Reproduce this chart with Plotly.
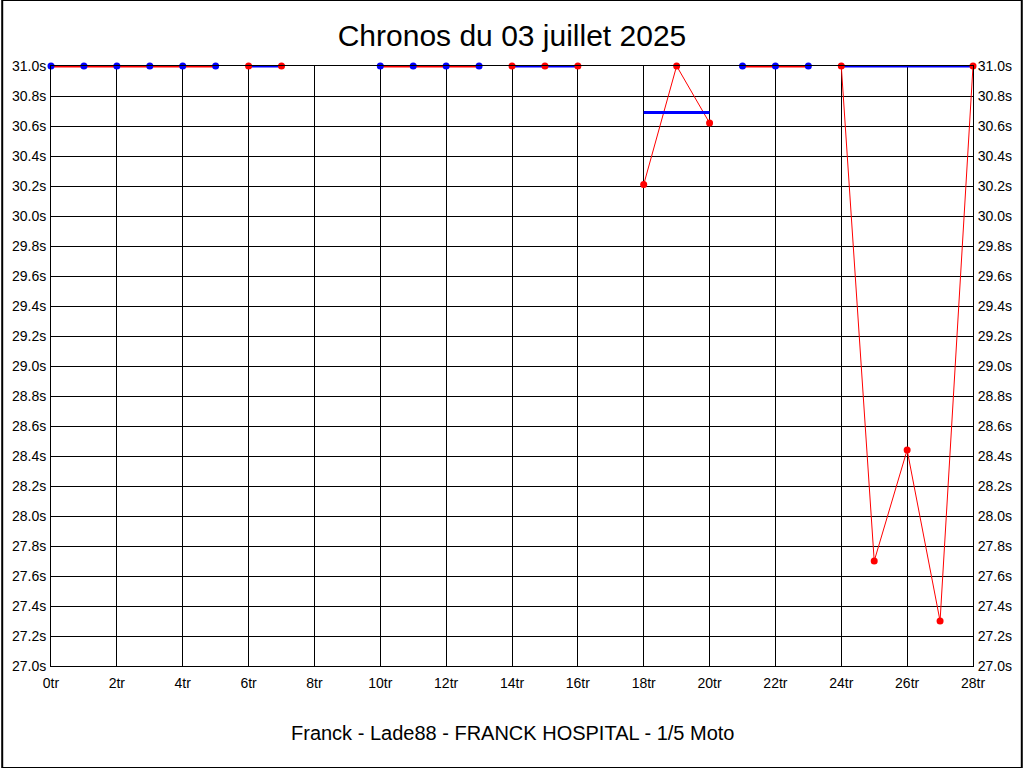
import plotly.graph_objects as go

# Lap number, lap time (values above 31.0s are shown clamped at the top)
LAPS = [0, 1, 2, 3, 4, 5, 6, 7, 10, 11, 12, 13, 14, 15, 16,
        18, 19, 20, 21, 22, 23, 24, 25, 26, 27, 28]
TIMES = [31.0, 31.0, 31.0, 31.0, 31.0, 31.0, 31.0, 31.0, 31.0, 31.0, 31.0, 31.0, 31.0, 31.0, 31.0,
         30.21, 31.0, 30.62, 31.0, 31.0, 31.0, 31.0, 27.70, 28.44, 27.30, 31.0]
# run (session) index of each lap
RUN = [0, 0, 0, 0, 0, 0, 1, 1, 2, 2, 2, 2, 3, 3, 3,
       4, 4, 4, 5, 5, 5, 6, 6, 6, 6, 6]
RUN_MEAN = [31.0, 31.0, 31.0, 31.0, 30.69, 31.0, 31.0]
RUN_MARKER = ['blue', 'red', 'blue', 'red', 'red', 'blue', 'red']

TITLE = 'Chronos du 03 juillet 2025'
FOOTER = 'Franck - Lade88 - FRANCK HOSPITAL - 1/5 Moto'

RED = '#FF0000'
BLUE = '#0000FF'
COLORS = {'red': RED, 'blue': BLUE}
FONT = 'Liberation Sans, Arial, sans-serif'

# W x H of the page and plot margins
W, H = 1024, 768
ML, MR, MT, MB = 49, 49, 66, 102

fig = go.Figure()

# thin red line, broken between runs
xs, ys = [], []
for i, (lap, t) in enumerate(zip(LAPS, TIMES)):
    if i > 0 and RUN[i] != RUN[i - 1]:
        xs.append(None)
        ys.append(None)
    xs.append(lap)
    ys.append(t)
fig.add_trace(go.Scatter(x=xs, y=ys, mode='lines', line=dict(color=RED, width=1),
                         cliponaxis=False, hoverinfo='skip', showlegend=False))

# thick mean line per run, in the opposite colour of its markers
for r, mean in enumerate(RUN_MEAN):
    laps = [l for l, k in zip(LAPS, RUN) if k == r]
    col = BLUE if RUN_MARKER[r] == 'red' else RED
    fig.add_trace(go.Scatter(x=[laps[0], laps[-1]], y=[mean, mean], mode='lines',
                             line=dict(color=col, width=3), cliponaxis=False,
                             hoverinfo='skip', showlegend=False))

# markers
fig.add_trace(go.Scatter(
    x=LAPS, y=TIMES, mode='markers', cliponaxis=False,
    marker=dict(size=7, color=[COLORS[RUN_MARKER[k]] for k in RUN], line=dict(width=0)),
    showlegend=False,
))

# invisible trace for the right-hand axis
fig.add_trace(go.Scatter(x=[LAPS[0]], y=[TIMES[0]], yaxis='y2', mode='markers',
                         marker=dict(opacity=0), hoverinfo='skip', showlegend=False))

pw, ph = W - ML - MR, H - MT - MB
fig.add_shape(type='rect', xref='paper', yref='paper',
              x0=-ML / pw, x1=1 + MR / pw, y0=-MB / ph, y1=1 + MT / ph,
              line=dict(color='black', width=2), layer='above')

fig.add_annotation(text=FOOTER, xref='paper', yref='paper', x=0.5, y=-67 / ph,
                   xanchor='center', yanchor='middle', showarrow=False,
                   font=dict(family=FONT, size=20, color='black'))

axis_common = dict(
    showgrid=True, gridcolor='black', gridwidth=1,
    showline=True, linecolor='black', linewidth=1,
    ticks='outside', tickcolor='rgba(0,0,0,0)', zeroline=False,
    tickfont=dict(family=FONT, size=14, color='black'),
)

fig.update_layout(
    width=W, height=H,
    margin=dict(l=ML, r=MR, t=MT, b=MB),
    paper_bgcolor='white', plot_bgcolor='white',
    title=dict(text=TITLE, x=0.5, xanchor='center', y=1 - 35 / H, yanchor='middle',
               font=dict(family=FONT, size=30, color='black')),
    xaxis=dict(range=[0, 28], dtick=2, tick0=0, ticksuffix='tr', mirror=True,
               ticklen=4, **axis_common),
    yaxis=dict(range=[27.0, 31.0], dtick=0.2, tick0=27.0, tickformat='.1f', ticksuffix='s',
               ticklen=1, **axis_common),
    yaxis2=dict(range=[27.0, 31.0], dtick=0.2, tick0=27.0, tickformat='.1f', ticksuffix='s',
                overlaying='y', side='right', matches='y', ticklen=1, **axis_common),
)

fig.write_html('out.html', config={'displayModeBar': False},
               post_script="document.body.style.margin='0';")
